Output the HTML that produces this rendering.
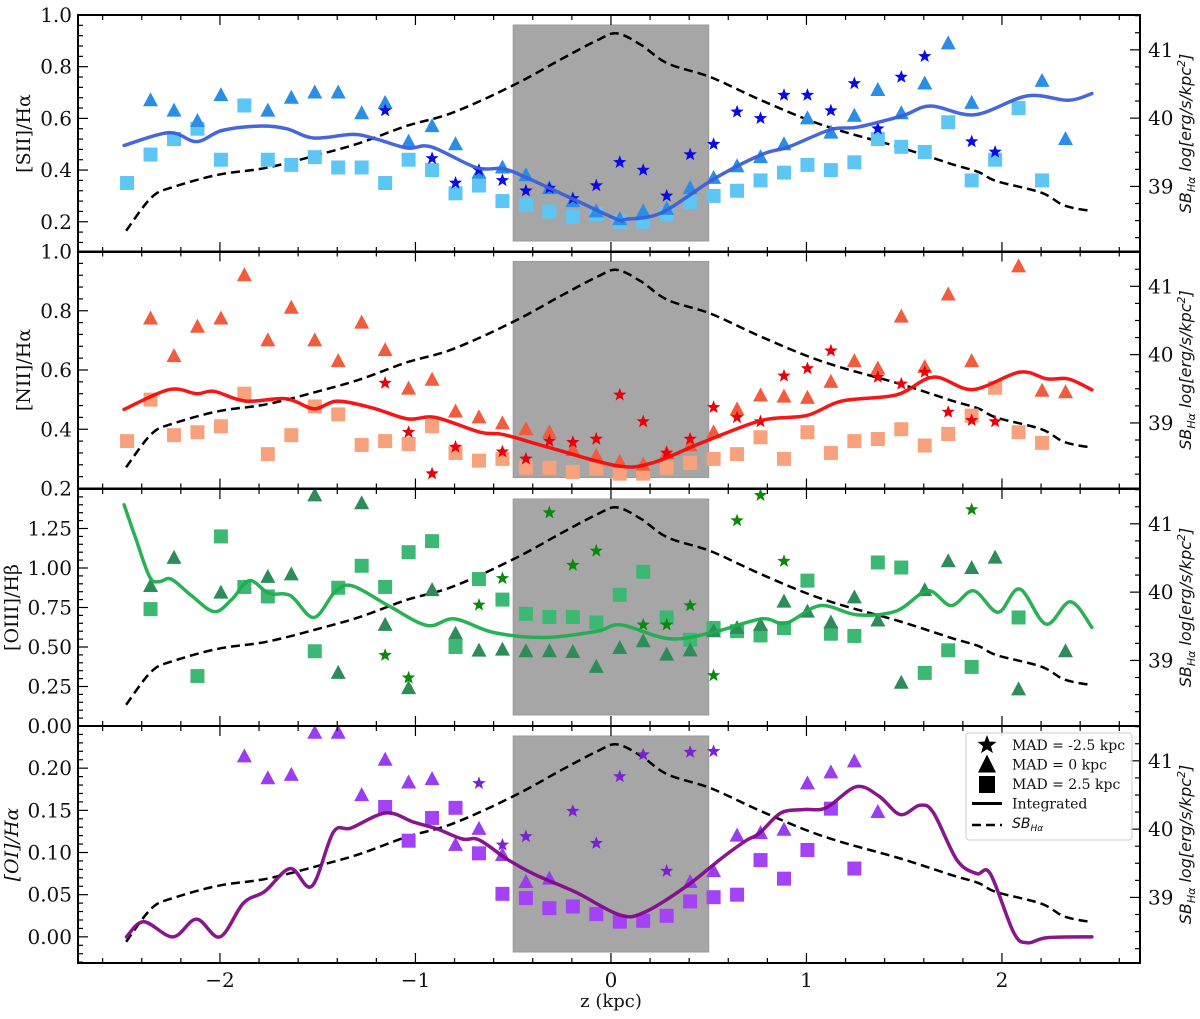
<!DOCTYPE html>
<html><head><meta charset="utf-8"><style>
html,body{margin:0;padding:0;background:#fff;}
svg text{font-family:"DejaVu Serif","Liberation Serif",serif;}
</style></head><body>
<svg id="chart" width="1200" height="1014" viewBox="0 0 1200 1014" xmlns="http://www.w3.org/2000/svg"></svg>
<script>
// ---- data ----
const zGrid = [-2.475,-2.355,-2.235,-2.115,-1.995,-1.875,-1.755,-1.635,-1.515,-1.395,-1.275,-1.155,-1.035,-0.915,-0.795,-0.675,-0.555,-0.435,-0.315,-0.195,-0.075,0.045,0.165,0.285,0.405,0.525,0.645,0.765,0.885,1.005,1.125,1.245,1.365,1.485,1.605,1.725,1.845,1.965,2.085,2.205,2.325];
const N=null;
// panel 1 [SII]/Ha
const tri1 = [N,.67,.63,.59,.69,N,.63,.68,.70,.70,.62,.66,.51,.57,.50,.39,.41,.38,.33,.28,.24,.21,.24,.25,.33,.37,.415,.45,.50,.60,.545,.61,.71,.62,.735,.89,.66,N,N,.745,.52];
const sq1 = [.35,.46,.52,.56,.44,.65,.44,.42,.45,.41,.41,.35,.44,.40,.31,.34,.28,.265,.24,.22,.23,.20,.20,.23,.275,.30,.32,.36,.39,.42,.40,.43,.52,.49,.47,.585,.36,.44,.64,.36,N];
const star1 = [N,N,N,N,N,N,N,N,N,N,N,.63,N,.445,.35,.40,.36,.32,.33,.29,.34,.43,.40,.30,.46,.50,.625,.60,.69,.69,.63,.735,.56,.76,.84,N,.51,.47,N,N,N];
const lineZ1 = [-2.49,-2.26,-2.12,-1.99,-1.80,-1.66,-1.52,-1.32,-1.20,-1.04,-0.92,-0.69,-0.55,-0.43,-0.20,0.03,0.08,0.26,0.525,0.77,0.91,1.125,1.26,1.49,1.635,1.86,2.13,2.34,2.46];
const lineV1 = [.495,.545,.51,.553,.57,.56,.524,.538,.52,.485,.49,.41,.405,.37,.29,.21,.21,.235,.365,.46,.49,.557,.566,.61,.648,.614,.687,.67,.696];
// panel 2 [NII]/Ha
const tri2 = [N,.774,.647,.746,.774,.92,.70,.81,.70,.63,.76,.667,.537,.567,.46,.44,.42,.40,.39,.33,.31,.29,.28,.32,.345,.39,.467,.514,.51,.506,.56,.63,.605,.78,.61,.855,.63,N,.95,.53,.525];
const sq2 = [.36,.50,.38,.39,.41,.52,.316,.38,.477,.45,.347,.36,.35,.41,.32,.294,.30,.27,.27,.256,.268,.25,.25,.27,.286,.30,.316,.373,.30,.39,.32,.36,.367,.40,.345,.384,.446,.54,.39,.354,N];
const star2 = [N,N,N,N,N,N,N,N,N,N,N,.556,.39,.25,.34,N,.324,.30,.36,.356,.367,.516,.426,.32,.367,.474,.44,.426,.58,.605,.665,N,.576,.553,.593,.458,.43,.426,N,N,N];
const lineZ2 = [-2.49,-2.26,-2.12,-2.03,-1.87,-1.66,-1.52,-1.40,-1.22,-1.04,-0.90,-0.67,-0.55,-0.32,0.03,0.21,0.47,0.77,1.0,1.18,1.46,1.65,1.85,2.09,2.23,2.34,2.46];
const lineV2 = [.467,.534,.52,.528,.495,.503,.469,.495,.472,.435,.44,.39,.382,.339,.277,.286,.356,.43,.446,.495,.516,.576,.534,.593,.57,.57,.533];
// panel 3 [OIII]/Hb
const tri3 = [N,.886,1.064,N,.844,N,.944,.96,1.46,.336,1.41,.64,.24,.86,.584,.477,.483,.473,.473,.468,.374,.494,.536,.452,.479,.60,.62,.64,.787,.724,.655,.814,.668,.274,.86,1.043,1.0,1.066,.232,N,.473];
const sq3 = [N,.74,N,.316,1.20,.88,.82,N,.473,.875,1.014,.88,1.10,1.17,.50,.93,.80,.71,.69,.69,.655,.83,.976,.687,.546,.62,.60,.573,.62,.92,.584,.57,1.035,1.003,.336,.479,.374,N,.687,N,N];
const star3 = [N,N,N,N,N,N,N,N,N,N,N,.448,.305,N,N,.766,.934,N,1.35,1.018,1.108,N,.64,.64,.762,.32,1.30,1.46,1.043,N,N,N,N,N,N,N,1.37,N,N,N,N];
const lineZ3 = [-2.49,-2.43,-2.36,-2.31,-2.25,-2.15,-2.03,-1.94,-1.85,-1.75,-1.64,-1.52,-1.41,-1.32,-1.13,-0.94,-0.80,-0.60,-0.34,-0.07,0.05,0.30,0.525,0.77,0.895,1.07,1.26,1.46,1.62,1.74,1.855,1.98,2.09,2.225,2.35,2.46];
const lineV3 = [1.40,1.185,.944,.913,.93,.83,.724,.80,.92,.84,.825,.687,.85,.886,.756,.636,.678,.592,.56,.60,.64,.552,.594,.678,.65,.762,.703,.728,.856,.762,.856,.72,.867,.645,.787,.624];
// panel 4 [OI]/Ha
const tri4 = [N,N,N,N,N,.214,.188,.192,.242,.242,.168,.21,.183,.187,.109,.128,.097,.065,.069,N,N,N,N,N,.065,.078,.12,.123,.127,.182,.195,.208,.148,N,N,N,N,N,N,N,N];
const sq4 = [N,N,N,N,N,N,N,N,N,N,N,.154,.114,.141,.153,.099,.051,.046,.034,.036,.027,.018,.019,.025,.042,.047,.05,.091,.069,.103,.152,.081,N,N,N,N,N,N,N,N,N];
const star4 = [N,N,N,N,N,N,N,N,N,N,N,N,N,N,N,.182,.109,.119,N,.149,.111,.19,.216,.078,.219,.22,N,N,N,N,N,N,N,N,N,N,N,N,N,N,N];
const lineZ4 = [-2.478,-2.39,-2.24,-2.12,-2.0,-1.88,-1.77,-1.64,-1.53,-1.42,-1.33,-1.15,-1.01,-0.89,-0.76,-0.675,-0.53,-0.39,-0.18,0.045,0.17,0.38,0.57,0.69,0.76,0.87,0.99,1.10,1.255,1.37,1.48,1.58,1.65,1.77,1.87,1.94,2.06,2.13,2.23,2.46];
const lineV4 = [0,.018,0,.021,0,.04,.054,.081,.06,.124,.129,.147,.136,.128,.116,.115,.092,.074,.053,.026,.029,.059,.094,.114,.123,.147,.151,.153,.178,.167,.145,.156,.147,.091,.075,.075,.005,-.007,-.001,0];
// SB_Ha dashed profile (right axis)
const sbZ = [-2.48,-2.35,-2.24,-2.01,-1.75,-1.45,-1.27,-1.04,-0.81,-0.50,-0.25,-0.07,0.03,0.155,0.29,0.51,0.77,1.09,1.48,1.74,1.88,1.97,2.20,2.32,2.455];
const sbV = [38.35,38.84,38.99,39.17,39.28,39.50,39.65,39.89,40.08,40.48,40.87,41.14,41.24,41.07,40.80,40.60,40.26,39.89,39.57,39.33,39.21,39.08,38.91,38.72,38.64];
// axis ticks
const xTicks = [-2,-1,0,1,2];
const xTickLabels = ["\u22122","\u22121","0","1","2"];
const rightTicks = [39,40,41];

// ---- layout ----
const svg=document.getElementById('chart');
const NS='http://www.w3.org/2000/svg';
const X0=78,X1=1140,ZMIN=-2.726,ZMAX=2.706;
const xs=z=>X0+(z-ZMIN)/(ZMAX-ZMIN)*(X1-X0);
const RMIN=38.04,RMAX=41.51;
function mk(tag,attrs,parent){const e=document.createElementNS(NS,tag);for(const k in attrs)e.setAttribute(k,attrs[k]);(parent||svg).appendChild(e);return e;}
function smooth(pts){let d='M'+pts[0][0].toFixed(1)+','+pts[0][1].toFixed(1);
 for(let i=0;i<pts.length-1;i++){const p0=pts[Math.max(0,i-1)],p1=pts[i],p2=pts[i+1],p3=pts[Math.min(pts.length-1,i+2)];
  const c1=[p1[0]+(p2[0]-p0[0])/6,p1[1]+(p2[1]-p0[1])/6],c2=[p2[0]-(p3[0]-p1[0])/6,p2[1]-(p3[1]-p1[1])/6];
  d+=' C'+c1[0].toFixed(1)+','+c1[1].toFixed(1)+' '+c2[0].toFixed(1)+','+c2[1].toFixed(1)+' '+p2[0].toFixed(1)+','+p2[1].toFixed(1);}
 return d;}
function starPath(cx,cy,r){let d='';for(let k=0;k<10;k++){const a=-Math.PI/2+k*Math.PI/5,rr=k%2?r*0.42:r;d+=(k?'L':'M')+(cx+rr*Math.cos(a)).toFixed(1)+','+(cy+rr*Math.sin(a)).toFixed(1);}return d+'Z';}

const panels=[
 {name:'sii',top:15,ymin:0.083,ymax:1.0,major:[0.2,0.4,0.6,0.8,1.0],minor:0.04,fmt:v=>v.toFixed(1),label:'[SII]/H\u03b1',italic:false,lx:30,
  tri:tri1,sq:sq1,star:star1,lz:lineZ1,lv:lineV1,cTri:'#2b8ee6',cSq:'#5ec6f4',cStar:'#0a0ae8',cLine:'#3c5fd8'},
 {name:'nii',top:251.5,ymin:0.2,ymax:1.0,major:[0.2,0.4,0.6,0.8,1.0],minor:0.04,fmt:v=>v.toFixed(1),label:'[NII]/H\u03b1',italic:false,lx:30,
  tri:tri2,sq:sq2,star:star2,lz:lineZ2,lv:lineV2,cTri:'#f25c3e',cSq:'#f7a27c',cStar:'#e8000a',cLine:'#f50a0a'},
 {name:'oiii',top:489,ymin:0,ymax:1.5,major:[0,0.25,0.5,0.75,1.0,1.25],minor:0.05,fmt:v=>v.toFixed(2),label:'[OIII]/H\u03b2',italic:false,lx:18,
  tri:tri3,sq:sq3,star:star3,lz:lineZ3,lv:lineV3,cTri:'#2e8b5a',cSq:'#3db872',cStar:'#0a8a0a',cLine:'#1cae4c'},
 {name:'oi',top:726,ymin:-0.031,ymax:0.25,major:[0,0.05,0.1,0.15,0.2],minor:0.01,fmt:v=>v.toFixed(2),label:'[OI]/H\u03b1',italic:true,lx:18,
  tri:tri4,sq:sq4,star:star4,lz:lineZ4,lv:lineV4,cTri:'#9a3cf0',cSq:'#a442f6',cStar:'#7a22d2',cLine:'#820a86'}
];
const PH=237;

panels.forEach((p,pi)=>{
 const bot=p.top+PH;
 const ys=v=>bot-(v-p.ymin)/(p.ymax-p.ymin)*PH;
 const yr=v=>bot-(v-RMIN)/(RMAX-RMIN)*PH;
 const g=mk('g',{});
 
 
 const cp=mk('clipPath',{id:'clip'+pi},g);
 mk('rect',{x:X0,y:p.top,width:X1-X0,height:PH},cp);
 const sh=mk('rect',{x:xs(-0.5),y:p.top+10,width:xs(0.5)-xs(-0.5),height:PH-21,fill:'#a6a6a6',stroke:'#9a9a9a','stroke-width':1},g);
 
 
 const inner=mk('g',{'clip-path':'url(#clip'+pi+')'},g);
 const sbPts=sbZ.map((z,i)=>[xs(z),yr(sbV[i])]);
 const sb=mk('path',{d:smooth(sbPts),fill:'none',stroke:'#000','stroke-width':2.5,'stroke-dasharray':'9,5'},inner);
 
 
 p.sq.forEach((v,i)=>{if(v===null)return;const r=mk('rect',{x:xs(zGrid[i])-7,y:ys(v)-7,width:14,height:14,fill:p.cSq},inner);
  
  });
 p.tri.forEach((v,i)=>{if(v===null)return;const cx=xs(zGrid[i]),cy=ys(v);
  const t=mk('path',{d:`M${cx},${cy-8}L${cx+7.5},${cy+6}L${cx-7.5},${cy+6}Z`,fill:p.cTri},inner);
  
  });
 p.star.forEach((v,i)=>{if(v===null)return;const s=mk('path',{d:starPath(xs(zGrid[i]),ys(v),7),fill:p.cStar},inner);
  
  });
 const lp=p.lz.map((z,i)=>[xs(z),ys(p.lv[i])]);
 const ln=mk('path',{d:smooth(lp),fill:'none',stroke:p.cLine,'stroke-width':3.5,'stroke-linecap':'round','stroke-opacity':0.95},inner);
 
 
 mk('rect',{x:X0,y:p.top,width:X1-X0,height:PH,fill:'none',stroke:'#000','stroke-width':2},g);
 for(let z=-2.6;z<=2.61;z+=0.2){const zz=Math.round(z*10)/10;const maj=Math.abs(zz-Math.round(zz))<1e-6;const L=maj?10:5;
  mk('line',{x1:xs(zz),x2:xs(zz),y1:bot,y2:bot-L,stroke:'#000','stroke-width':1.2},g);
  mk('line',{x1:xs(zz),x2:xs(zz),y1:p.top,y2:p.top+L,stroke:'#000','stroke-width':1.2},g);}
 const start=Math.ceil(p.ymin/p.minor-1e-6);
 for(let k=start;k*p.minor<=p.ymax+1e-9;k++){const v=k*p.minor;const maj=p.major.some(m=>Math.abs(m-v)<1e-6);
  mk('line',{x1:X0,x2:X0+(maj?10:5),y1:ys(v),y2:ys(v),stroke:'#000','stroke-width':1.2},g);}
 p.major.forEach(v=>{const t=mk('text',{x:X0-6,y:ys(v)+7,'text-anchor':'end','font-size':20,fill:'#111'},g);t.textContent=p.fmt(v);
  
  });
 for(let v=38.25;v<=41.5;v+=0.25){const maj=Math.abs(v-Math.round(v))<1e-6;
  mk('line',{x1:X1,x2:X1-(maj?10:5),y1:yr(v),y2:yr(v),stroke:'#000','stroke-width':1.2},g);}
 rightTicks.forEach(v=>{const t=mk('text',{x:X1+8,y:yr(v)+7,'font-size':20,fill:'#111'},g);t.textContent=v;
  
  });
 const cy=p.top+PH/2;
 const yl=mk('text',{x:0,y:0,transform:`translate(${p.lx},${cy}) rotate(-90)`,'text-anchor':'middle','font-size':19,fill:'#111','font-style':p.italic?'italic':'normal'},g);
 yl.textContent=p.label;
 
 
 const rl=mk('text',{x:0,y:0,transform:`translate(1191,${cy}) rotate(-90)`,'text-anchor':'middle','font-size':16,'font-style':'italic',fill:'#111',style:'font-family:"DejaVu Sans","Liberation Sans",sans-serif'},g);
 rl.innerHTML='SB<tspan font-size="11" dy="4">H\u03b1</tspan><tspan dy="-4"> log[erg/s/kpc</tspan><tspan font-size="11" dy="-6">2</tspan><tspan dy="6">]</tspan>';
 
 
});

xTicks.forEach((z,i)=>{const t=mk('text',{x:xs(z),y:987,'text-anchor':'middle','font-size':20,fill:'#111'});t.textContent=xTickLabels[i];
 
 });
const xl=mk('text',{x:611,y:1007,'text-anchor':'middle','font-size':18,fill:'#111'});xl.textContent='z (kpc)';



const lg=mk('g',{});


mk('rect',{x:966,y:733,width:166,height:107,rx:3,fill:'#fff','fill-opacity':0.85,stroke:'#ccc','stroke-width':1},lg);
const legItems=[['star','MAD = -2.5 kpc'],['tri','MAD = 0 kpc'],['sq','MAD = 2.5 kpc'],['line','Integrated'],['dash','SB']];
legItems.forEach((it,i)=>{const y=745+i*19.5;const cx=987;
 const eg=mk('g',{},lg);
 
 
 if(it[0]==='star')mk('path',{d:starPath(cx,y,10),fill:'#000'},eg);
 if(it[0]==='tri')mk('path',{d:`M${cx},${y-10}L${cx+9},${y+8}L${cx-9},${y+8}Z`,fill:'#000'},eg);
 if(it[0]==='sq')mk('rect',{x:cx-8,y:y-8,width:16,height:17,fill:'#000'},eg);
 if(it[0]==='line')mk('line',{x1:972,x2:1002,y1:y,y2:y,stroke:'#000','stroke-width':3},eg);
 if(it[0]==='dash')mk('line',{x1:972,x2:1002,y1:y+2,y2:y+2,stroke:'#000','stroke-width':2.5,'stroke-dasharray':'9,5'},eg);
 const t=mk('text',{x:1012,y:y+5,'font-size':14,fill:'#111'},eg);
 if(it[0]==='dash'){t.setAttribute('font-style','italic');t.setAttribute('style','font-family:"DejaVu Sans",sans-serif');t.innerHTML='SB<tspan font-size="9" dy="3">H\u03b1</tspan>';}
 else t.textContent=it[1];
});
</script>
</body></html>
